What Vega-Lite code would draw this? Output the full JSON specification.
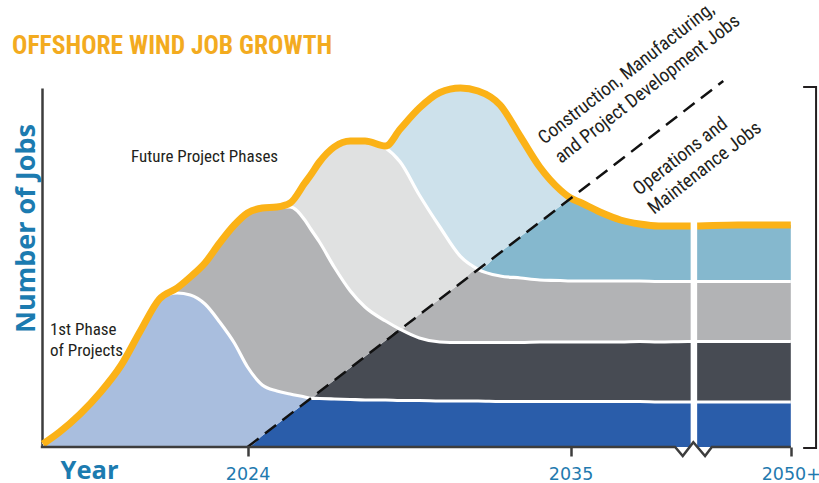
{
  "$schema": "https://vega.github.io/schema/vega-lite/v6.json",
  "width": 777,
  "height": 359,
  "autosize": {"type": "none"},
  "padding": {"left": 42, "top": 88, "right": 0, "bottom": 36},
  "background": "white",
  "config": {"view": {"stroke": null}},
  "datasets": {
    "jobs": [
      {"year": 2017.03, "P1 O&M": 0, "P1 construction": 3, "P2 O&M": 0, "P2 construction": 0, "P3 O&M": 0, "P3 construction": 0, "P4 O&M": 0, "P4 construction": 0},
      {"year": 2017.6, "P1 O&M": 0, "P1 construction": 15, "P2 O&M": 0, "P2 construction": 0, "P3 O&M": 0, "P3 construction": 0, "P4 O&M": 0, "P4 construction": 0},
      {"year": 2018.3, "P1 O&M": 0, "P1 construction": 33, "P2 O&M": 0, "P2 construction": 0, "P3 O&M": 0, "P3 construction": 0, "P4 O&M": 0, "P4 construction": 0},
      {"year": 2019.0, "P1 O&M": 0, "P1 construction": 55, "P2 O&M": 0, "P2 construction": 0, "P3 O&M": 0, "P3 construction": 0, "P4 O&M": 0, "P4 construction": 0},
      {"year": 2019.7, "P1 O&M": 0, "P1 construction": 82, "P2 O&M": 0, "P2 construction": 0, "P3 O&M": 0, "P3 construction": 0, "P4 O&M": 0, "P4 construction": 0},
      {"year": 2020.35, "P1 O&M": 0, "P1 construction": 116, "P2 O&M": 0, "P2 construction": 0, "P3 O&M": 0, "P3 construction": 0, "P4 O&M": 0, "P4 construction": 0},
      {"year": 2021.0, "P1 O&M": 0, "P1 construction": 148, "P2 O&M": 0, "P2 construction": 0, "P3 O&M": 0, "P3 construction": 0, "P4 O&M": 0, "P4 construction": 0},
      {"year": 2021.6, "P1 O&M": 0, "P1 construction": 154, "P2 O&M": 0, "P2 construction": 5, "P3 O&M": 0, "P3 construction": 0, "P4 O&M": 0, "P4 construction": 0},
      {"year": 2022.05, "P1 O&M": 0, "P1 construction": 152, "P2 O&M": 0, "P2 construction": 18, "P3 O&M": 0, "P3 construction": 0, "P4 O&M": 0, "P4 construction": 0},
      {"year": 2022.55, "P1 O&M": 0, "P1 construction": 143, "P2 O&M": 0, "P2 construction": 41, "P3 O&M": 0, "P3 construction": 0, "P4 O&M": 0, "P4 construction": 0},
      {"year": 2023.05, "P1 O&M": 0, "P1 construction": 125, "P2 O&M": 0, "P2 construction": 79, "P3 O&M": 0, "P3 construction": 0, "P4 O&M": 0, "P4 construction": 0},
      {"year": 2023.55, "P1 O&M": 0, "P1 construction": 104, "P2 O&M": 0, "P2 construction": 118, "P3 O&M": 0, "P3 construction": 0, "P4 O&M": 0, "P4 construction": 0},
      {"year": 2024.0, "P1 O&M": 0, "P1 construction": 80, "P2 O&M": 0, "P2 construction": 154, "P3 O&M": 0, "P3 construction": 0, "P4 O&M": 0, "P4 construction": 0},
      {"year": 2024.5, "P1 O&M": 11.3, "P1 construction": 50.7, "P2 O&M": 0, "P2 construction": 177, "P3 O&M": 0, "P3 construction": 0, "P4 O&M": 0, "P4 construction": 0},
      {"year": 2025.0, "P1 O&M": 22.6, "P1 construction": 33.4, "P2 O&M": 0, "P2 construction": 184, "P3 O&M": 0, "P3 construction": 0, "P4 O&M": 0, "P4 construction": 0},
      {"year": 2025.45, "P1 O&M": 32.8, "P1 construction": 20.2, "P2 O&M": 0, "P2 construction": 187, "P3 O&M": 0, "P3 construction": 4, "P4 O&M": 0, "P4 construction": 0},
      {"year": 2025.95, "P1 O&M": 44.1, "P1 construction": 5.9, "P2 O&M": 0, "P2 construction": 177, "P3 O&M": 0, "P3 construction": 37, "P4 O&M": 0, "P4 construction": 0},
      {"year": 2026.15, "P1 O&M": 48.7, "P1 construction": 0, "P2 O&M": 0, "P2 construction": 169.3, "P3 O&M": 0, "P3 construction": 54, "P4 O&M": 0, "P4 construction": 0},
      {"year": 2026.45, "P1 O&M": 48.5, "P1 construction": 0, "P2 O&M": 7, "P2 construction": 149.5, "P3 O&M": 0, "P3 construction": 80, "P4 O&M": 0, "P4 construction": 0},
      {"year": 2026.95, "P1 O&M": 48, "P1 construction": 0, "P2 O&M": 18.8, "P2 construction": 113.2, "P3 O&M": 0, "P3 construction": 120, "P4 O&M": 0, "P4 construction": 0},
      {"year": 2027.5, "P1 O&M": 47.5, "P1 construction": 0, "P2 O&M": 31.7, "P2 construction": 76.8, "P3 O&M": 0, "P3 construction": 150, "P4 O&M": 0, "P4 construction": 0},
      {"year": 2028.0, "P1 O&M": 47, "P1 construction": 0, "P2 O&M": 43.6, "P2 construction": 49.4, "P3 O&M": 0, "P3 construction": 166, "P4 O&M": 0, "P4 construction": 0},
      {"year": 2028.7, "P1 O&M": 47, "P1 construction": 0, "P2 O&M": 59.4, "P2 construction": 19.6, "P3 O&M": 0, "P3 construction": 173, "P4 O&M": 0, "P4 construction": 2},
      {"year": 2029.2, "P1 O&M": 46.5, "P1 construction": 0, "P2 O&M": 71.2, "P2 construction": 0, "P3 O&M": 0, "P3 construction": 167.3, "P4 O&M": 0, "P4 construction": 33},
      {"year": 2029.85, "P1 O&M": 46.5, "P1 construction": 0, "P2 O&M": 62.5, "P2 construction": 0, "P3 O&M": 23.4, "P3 construction": 119.6, "P4 O&M": 0, "P4 construction": 87},
      {"year": 2030.55, "P1 O&M": 46, "P1 construction": 0, "P2 O&M": 59, "P2 construction": 0, "P3 O&M": 43.3, "P3 construction": 71.7, "P4 O&M": 0, "P4 construction": 134.5},
      {"year": 2031.25, "P1 O&M": 46, "P1 construction": 0, "P2 O&M": 58.5, "P2 construction": 0, "P3 O&M": 59.6, "P3 construction": 26.5, "P4 O&M": 0, "P4 construction": 168.4},
      {"year": 2031.85, "P1 O&M": 46, "P1 construction": 0, "P2 O&M": 58.5, "P2 construction": 0, "P3 O&M": 73.2, "P3 construction": 0, "P4 O&M": 0, "P4 construction": 178.3},
      {"year": 2032.6, "P1 O&M": 45.5, "P1 construction": 0, "P2 O&M": 59, "P2 construction": 0, "P3 O&M": 66.5, "P3 construction": 0, "P4 O&M": 23.7, "P4 construction": 147.3},
      {"year": 2033.3, "P1 O&M": 45.5, "P1 construction": 0, "P2 O&M": 59, "P2 construction": 0, "P3 O&M": 64.5, "P3 construction": 0, "P4 O&M": 41.6, "P4 construction": 99.4},
      {"year": 2033.95, "P1 O&M": 45.5, "P1 construction": 0, "P2 O&M": 59.5, "P2 construction": 0, "P3 O&M": 62, "P3 construction": 0, "P4 O&M": 58.3, "P4 construction": 54.7},
      {"year": 2034.65, "P1 O&M": 45.5, "P1 construction": 0, "P2 O&M": 59.5, "P2 construction": 0, "P3 O&M": 61.5, "P3 construction": 0, "P4 O&M": 74.6, "P4 construction": 15.9},
      {"year": 2035.0, "P1 O&M": 45.5, "P1 construction": 0, "P2 O&M": 59.5, "P2 construction": 0, "P3 O&M": 61, "P3 construction": 0, "P4 O&M": 83, "P4 construction": 0},
      {"year": 2035.3, "P1 O&M": 45.5, "P1 construction": 0, "P2 O&M": 59.5, "P2 construction": 0, "P3 O&M": 61, "P3 construction": 0, "P4 O&M": 79, "P4 construction": 0},
      {"year": 2036.0, "P1 O&M": 45.5, "P1 construction": 0, "P2 O&M": 59.5, "P2 construction": 0, "P3 O&M": 61, "P3 construction": 0, "P4 O&M": 69, "P4 construction": 0},
      {"year": 2036.7, "P1 O&M": 45.5, "P1 construction": 0, "P2 O&M": 59.5, "P2 construction": 0, "P3 O&M": 61, "P3 construction": 0, "P4 O&M": 61, "P4 construction": 0},
      {"year": 2037.35, "P1 O&M": 45.5, "P1 construction": 0, "P2 O&M": 60, "P2 construction": 0, "P3 O&M": 60.5, "P3 construction": 0, "P4 O&M": 57, "P4 construction": 0},
      {"year": 2038.0, "P1 O&M": 45, "P1 construction": 0, "P2 O&M": 60, "P2 construction": 0, "P3 O&M": 60.5, "P3 construction": 0, "P4 O&M": 55.5, "P4 construction": 0},
      {"year": 2039.0, "P1 O&M": 45, "P1 construction": 0, "P2 O&M": 60.5, "P2 construction": 0, "P3 O&M": 60, "P3 construction": 0, "P4 O&M": 55.5, "P4 construction": 0},
      {"year": 2040.7, "P1 O&M": 45, "P1 construction": 0, "P2 O&M": 60.5, "P2 construction": 0, "P3 O&M": 60, "P3 construction": 0, "P4 O&M": 56.5, "P4 construction": 0},
      {"year": 2042.5, "P1 O&M": 45, "P1 construction": 0, "P2 O&M": 60.5, "P2 construction": 0, "P3 O&M": 60, "P3 construction": 0, "P4 O&M": 56.5, "P4 construction": 0}
    ],
    "divider": [{"year": 2024.0, "jobs": 0}, {"year": 2040.2, "jobs": 366}],
    "baseline": [
      {"year": 2016.96, "jobs": 0}, {"year": 2038.56, "jobs": 0}, {"year": 2038.82, "jobs": -9},
      {"year": 2039.18, "jobs": 4.7}, {"year": 2039.58, "jobs": -9}, {"year": 2039.81, "jobs": 0}, {"year": 2042.5, "jobs": 0}
    ],
    "gap": [{"year": 2039.2, "lo": 0, "hi": 228}],
    "bracket": [
      {"step": 1, "year": 2042.92, "jobs": 360}, {"step": 2, "year": 2043.36, "jobs": 360},
      {"step": 3, "year": 2043.36, "jobs": -1}, {"step": 4, "year": 2042.92, "jobs": -1}
    ],
    "heading": [{"year": 2015.98, "jobs": 393.5, "text": "OFFSHORE WIND JOB GROWTH"}],
    "notes": [
      {"year": 2020.03, "jobs": 285.5, "text": "Future Project Phases"},
      {"year": 2017.27, "jobs": 112, "text": "1st Phase"},
      {"year": 2017.27, "jobs": 91, "text": "of Projects"}
    ],
    "diag": [
      {"year": 2034.1, "jobs": 302, "text": "Construction, Manufacturing,"},
      {"year": 2034.67, "jobs": 283, "text": "and Project Development Jobs"},
      {"year": 2037.33, "jobs": 251, "text": "Operations and"},
      {"year": 2037.84, "jobs": 232, "text": "Maintenance Jobs"}
    ]
  },
  "layer": [
    {
      "data": {"name": "jobs"},
      "transform": [
        {"fold": ["P1 O&M", "P1 construction", "P2 O&M", "P2 construction", "P3 O&M", "P3 construction", "P4 O&M", "P4 construction"], "as": ["series", "jobs"]},
        {"stack": "jobs", "groupby": ["year"], "sort": [{"field": "series", "order": "ascending"}], "as": ["y0", "y1"]}
      ],
      "layer": [
        {
          "mark": {"type": "area", "interpolate": "monotone"},
          "encoding": {
            "x": {
              "field": "year", "type": "quantitative",
              "scale": {"domain": [2017, 2043.46], "nice": false, "zero": false},
              "axis": {
                "values": [2024, 2035, 2042.5],
                "labelExpr": "datum.value > 2040 ? '2050+' : '' + datum.value",
                "domain": false, "grid": false,
                "ticks": true, "tickSize": 9, "tickColor": "#3d3d3d", "tickWidth": 2.5,
                "labelFont": "DejaVu Sans", "labelFontSize": 17.5, "labelColor": "#1F7AAF",
                "labelPadding": 23, "labelBaseline": "alphabetic", "labelAlign": "center",
                "labelFlush": false, "labelOverlap": false,
                "title": "Year", "titleFont": "Open Sans", "titleFontSize": 25.5, "titleFontWeight": "bold",
                "titleColor": "#1C7BB0", "titleAlign": "left", "titleBaseline": "alphabetic",
                "titleX": 18, "titleY": 31
              }
            },
            "y": {
              "field": "y1", "type": "quantitative",
              "scale": {"domain": [0, 359], "nice": false, "zero": true},
              "axis": {
                "domain": true, "domainColor": "#3d3d3d", "domainWidth": 2.5,
                "ticks": false, "labels": false, "grid": false,
                "title": "Number of Jobs", "titleFont": "Open Sans", "titleFontSize": 27, "titleFontWeight": "bold",
                "titleColor": "#1C7BB0", "titleAngle": -90, "titleAlign": "center", "titleBaseline": "alphabetic",
                "titleX": -8, "titleY": 140
              }
            },
            "y2": {"field": "y0"},
            "color": {
              "field": "series", "type": "nominal", "legend": null,
              "scale": {
                "domain": ["P1 O&M", "P1 construction", "P2 O&M", "P2 construction", "P3 O&M", "P3 construction", "P4 O&M", "P4 construction"],
                "range": ["#2A5DAA", "#A9BEDE", "#474B53", "#B2B3B5", "#B2B3B5", "#E0E1E1", "#85B8CE", "#CDE1EB"]
              }
            }
          }
        },
        {
          "transform": [{"filter": {"field": "series", "oneOf": ["P1 construction", "P2 construction", "P3 construction"]}}],
          "mark": {"type": "line", "interpolate": "monotone", "color": "white", "strokeWidth": 3.2},
          "encoding": {
            "x": {"field": "year", "type": "quantitative"},
            "y": {"field": "y1", "type": "quantitative"},
            "detail": {"field": "series"}
          }
        },
        {
          "transform": [{"filter": {"field": "series", "equal": "P4 construction"}}],
          "mark": {"type": "line", "interpolate": "monotone", "color": "#FBB217", "strokeWidth": 7, "strokeCap": "butt"},
          "encoding": {
            "x": {"field": "year", "type": "quantitative"},
            "y": {"field": "y1", "type": "quantitative"}
          }
        }
      ]
    },
    {
      "data": {"name": "divider"},
      "mark": {"type": "line", "color": "#111111", "strokeWidth": 2.5, "strokeDash": [14, 8]},
      "encoding": {
        "x": {"field": "year", "type": "quantitative"},
        "y": {"field": "jobs", "type": "quantitative"}
      }
    },
    {
      "data": {"name": "gap"},
      "mark": {"type": "rule", "color": "white", "strokeWidth": 6.5},
      "encoding": {
        "x": {"field": "year", "type": "quantitative"},
        "y": {"field": "lo", "type": "quantitative"},
        "y2": {"field": "hi"}
      }
    },
    {
      "data": {"name": "baseline"},
      "mark": {"type": "line", "color": "#3d3d3d", "strokeWidth": 2.5, "strokeJoin": "miter"},
      "encoding": {
        "x": {"field": "year", "type": "quantitative"},
        "y": {"field": "jobs", "type": "quantitative"}
      }
    },
    {
      "data": {"name": "bracket"},
      "mark": {"type": "line", "color": "#231F20", "strokeWidth": 2, "strokeJoin": "miter"},
      "encoding": {
        "x": {"field": "year", "type": "quantitative"},
        "y": {"field": "jobs", "type": "quantitative"},
        "order": {"field": "step"}
      }
    },
    {
      "data": {"name": "heading"},
      "mark": {"type": "text", "align": "left", "baseline": "alphabetic", "font": "Roboto Condensed, Liberation Sans Narrow, DejaVu Sans Condensed, Liberation Sans, sans-serif", "fontSize": 25.5, "fontWeight": "bold", "color": "#F3AB1F"},
      "encoding": {
        "x": {"field": "year", "type": "quantitative"},
        "y": {"field": "jobs", "type": "quantitative"},
        "text": {"field": "text"}
      }
    },
    {
      "data": {"name": "notes"},
      "mark": {"type": "text", "align": "left", "baseline": "alphabetic", "font": "Roboto Condensed, Liberation Sans Narrow, DejaVu Sans Condensed, Liberation Sans, sans-serif", "fontSize": 17, "color": "#231F20"},
      "encoding": {
        "x": {"field": "year", "type": "quantitative"},
        "y": {"field": "jobs", "type": "quantitative"},
        "text": {"field": "text"}
      }
    },
    {
      "data": {"name": "diag"},
      "mark": {"type": "text", "align": "left", "baseline": "alphabetic", "angle": -38, "font": "Roboto Condensed, Liberation Sans Narrow, DejaVu Sans Condensed, Liberation Sans, sans-serif", "fontSize": 19, "color": "#231F20"},
      "encoding": {
        "x": {"field": "year", "type": "quantitative"},
        "y": {"field": "jobs", "type": "quantitative"},
        "text": {"field": "text"}
      }
    }
  ]
}
